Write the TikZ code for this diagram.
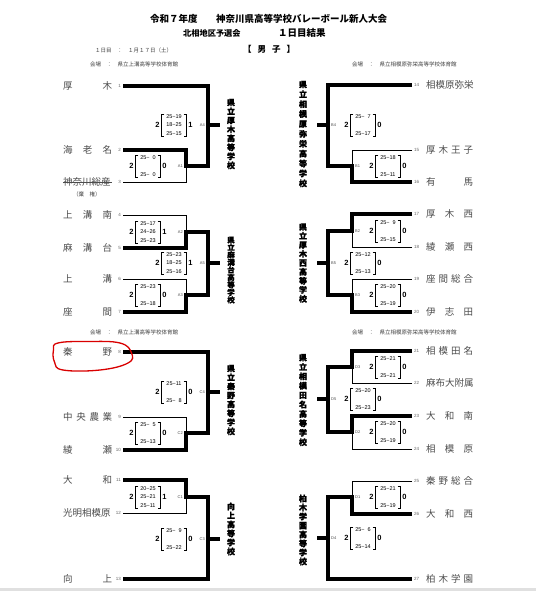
\documentclass[tikz,border=0pt]{standalone}
\usepackage{fontspec}
\setmainfont{Liberation Sans}
\newfontfamily\jp{Noto Sans CJK JP}
\newfontfamily\jpheavy[FakeBold=1.6]{Noto Sans CJK JP}
\usetikzlibrary{positioning}
\newcommand{\scorebrackets}[1]{%
\draw[brk] ([xshift=2.5pt]#1.north west) -- (#1.north west) -- (#1.south west) -- ([xshift=2.5pt]#1.south west);
\draw[brk] ([xshift=-2.5pt]#1.north east) -- (#1.north east) -- (#1.south east) -- ([xshift=-2.5pt]#1.south east);}

\begin{document}
\begin{tikzpicture}[x=1pt,y=-1pt,
  winline/.style={line width=3.4pt},
  loseline/.style={line width=0.9pt},
  brk/.style={line width=0.7pt},
  tname/.style={font=\jp\fontsize{9.5}{10}\selectfont,text=black!70,inner sep=0pt,anchor=west},
  tnum/.style={font=\fontsize{4.5}{5}\selectfont,text=black!60,inner sep=0pt},
  score/.style={font=\fontsize{5.5}{8.5}\selectfont,align=center,text width=18pt,inner xsep=3pt,inner ysep=0.5pt},
  setnum/.style={font=\bfseries\fontsize{7.5}{8}\selectfont,inner sep=0pt},
  rnd/.style={font=\fontsize{4}{5}\selectfont,text=black!70,inner sep=0pt},
  winner/.style={font=\jpheavy\bfseries\fontsize{8}{9}\selectfont,align=center,inner sep=0pt},
  head/.style={font=\jp\bfseries\fontsize{9.5}{10}\selectfont,inner sep=0pt,anchor=west},
  venue/.style={font=\jp\fontsize{5.5}{6}\selectfont,text=black!75,inner sep=0pt,anchor=west}]
\useasboundingbox (0,0) rectangle (536,591);
\fill[white] (0,0) rectangle (536,591);
\fill[black!12] (0,587.5) rectangle (536,591);

\node[head] (h1) at (150,19) {令和７年度};
\node[head] (h2) at (216,19) {神奈川県高等学校バレーボール新人大会};
\node[head,font=\jp\bfseries\fontsize{8.2}{9}\selectfont] (h3) at (183,33) {北相地区予選会};
\node[head] (h4) at (278,33) {１日目結果};
\node[head,font=\jp\bfseries\fontsize{8.5}{9}\selectfont] (h5) at (243,49) {\makebox[52pt][s]{【\hfill 男\hfill 子\hfill 】}};
\node[venue] (dt) at (95,50) {１日目　：　１月１７日（土）};
\node[venue] (v1) at (90,64) {会場　：　県立上溝高等学校体育館};
\node[venue] (v2) at (352,64) {会場　：　県立相模原弥栄高等学校体育館};
\node[venue] (v3) at (90,332) {会場　：　県立上溝高等学校体育館};
\node[venue] (v4) at (352,332) {会場　：　県立相模原弥栄高等学校体育館};

\coordinate (t1) at (123,86);
\coordinate (t2) at (123,150);
\coordinate (t3) at (123,182);
\coordinate (t4) at (123,215);
\coordinate (t5) at (123,248);
\coordinate (t6) at (123,279);
\coordinate (t7) at (123,312);
\coordinate (t8) at (123,352);
\coordinate (t9) at (123,417);
\coordinate (t10) at (123,450);
\coordinate (t11) at (123,480);
\coordinate (t12) at (123,513);
\coordinate (t13) at (123,579);
\coordinate (a1) at (186,166);
\coordinate (a2) at (186,232);
\coordinate (a3) at (186,295);
\coordinate (c2) at (186,433);
\coordinate (c1) at (186,497);
\coordinate (a4) at (208,125);
\coordinate (a5) at (208,263);
\coordinate (c4) at (208,392);
\coordinate (c3) at (208,539);
\coordinate (wa4) at (220,125);
\coordinate (wa5) at (220,263);
\coordinate (wc4) at (220,392);
\coordinate (wc3) at (220,539);

\coordinate (t14) at (412,85);
\coordinate (t15) at (412,150);
\coordinate (t16) at (412,182);
\coordinate (t17) at (412,214);
\coordinate (t18) at (412,247);
\coordinate (t19) at (412,279);
\coordinate (t20) at (412,312);
\coordinate (t21) at (412,351);
\coordinate (t22) at (412,383);
\coordinate (t23) at (412,416);
\coordinate (t24) at (412,449);
\coordinate (t25) at (412,481);
\coordinate (t26) at (412,514);
\coordinate (t27) at (412,579);
\coordinate (b1) at (352,166);
\coordinate (b2) at (352,231);
\coordinate (b3) at (352,295);
\coordinate (d3) at (352,367);
\coordinate (d2) at (352,432);
\coordinate (d1) at (352,497);
\coordinate (b4) at (328,125);
\coordinate (b5) at (328,263);
\coordinate (d5) at (328,399);
\coordinate (d4) at (328,538);
\coordinate (wb4) at (317,125);
\coordinate (wb5) at (317,263);
\coordinate (wd5) at (317,399);
\coordinate (wd4) at (317,538);

\draw[loseline] (t3) -| (a1);
\draw[loseline] (t4) -| (a2);
\draw[loseline] (t6) -| (a3);
\draw[loseline] (t9) -| (c2);
\draw[loseline] (t12) -| (c1);
\draw[winline] (t2) -| (a1) -| (a4);
\draw[winline] (t1) -| (a4) -- (wa4);
\draw[winline] (t7) -| (a3) -| (a5);
\draw[winline] (t5) -| (a2) -| (a5) -- (wa5);
\draw[winline] (t10) -| (c2) -| (c4);
\draw[winline] (t8) -| (c4) -- (wc4);
\draw[winline] (t11) -| (c1) -| (c3);
\draw[winline] (t13) -| (c3) -- (wc3);

\draw[loseline] (t15) -| (b1);
\draw[loseline] (t18) -| (b2);
\draw[loseline] (t19) -| (b3);
\draw[loseline] (t22) -| (d3);
\draw[loseline] (t24) -| (d2);
\draw[loseline] (t25) -| (d1);
\draw[winline] (t16) -| (b1) -| (b4);
\draw[winline] (t14) -| (b4) -- (wb4);
\draw[winline] (t20) -| (b3) -| (b5);
\draw[winline] (t17) -| (b2) -| (b5) -- (wb5);
\draw[winline] (t23) -| (d2) -| (d5);
\draw[winline] (t21) -| (d3) -| (d5) -- (wd5);
\draw[winline] (t26) -| (d1) -| (d4);
\draw[winline] (t27) -| (d4) -- (wd4);

\node[tnum,anchor=east] (no1) at (121,86) {1};
\node[tnum,anchor=east] (no2) at (121,150) {2};
\node[tnum,anchor=east] (no3) at (121,182) {3};
\node[tnum,anchor=east] (no4) at (121,215) {4};
\node[tnum,anchor=east] (no5) at (121,248) {5};
\node[tnum,anchor=east] (no6) at (121,279) {6};
\node[tnum,anchor=east] (no7) at (121,312) {7};
\node[tnum,anchor=east] (no8) at (121,352) {8};
\node[tnum,anchor=east] (no9) at (121,417) {9};
\node[tnum,anchor=east] (no10) at (121,450) {10};
\node[tnum,anchor=east] (no11) at (121,480) {11};
\node[tnum,anchor=east] (no12) at (121,513) {12};
\node[tnum,anchor=east] (no13) at (121,579) {13};
\node[tnum,anchor=west] (no14) at (414,85) {14};
\node[tnum,anchor=west] (no15) at (414,150) {15};
\node[tnum,anchor=west] (no16) at (414,182) {16};
\node[tnum,anchor=west] (no17) at (414,214) {17};
\node[tnum,anchor=west] (no18) at (414,247) {18};
\node[tnum,anchor=west] (no19) at (414,279) {19};
\node[tnum,anchor=west] (no20) at (414,312) {20};
\node[tnum,anchor=west] (no21) at (414,351) {21};
\node[tnum,anchor=west] (no22) at (414,383) {22};
\node[tnum,anchor=west] (no23) at (414,416) {23};
\node[tnum,anchor=west] (no24) at (414,449) {24};
\node[tnum,anchor=west] (no25) at (414,481) {25};
\node[tnum,anchor=west] (no26) at (414,514) {26};
\node[tnum,anchor=west] (no27) at (414,579) {27};

\node[tname] (n1) at (63,86) {\makebox[49pt][s]{厚\hfill 木}};
\node[tname] (n2) at (63,150) {\makebox[49pt][s]{海\hfill 老\hfill 名}};
\node[tname] (n3) at (63,182) {\makebox[49pt][s]{神奈川総産}};
\draw[line width=0.6pt,black!70] (n3.west) -- (n3.east);
\node[venue] (kiken) at (73,194) {（棄　権）};
\node[tname] (n4) at (63,215) {\makebox[49pt][s]{上\hfill 溝\hfill 南}};
\node[tname] (n5) at (63,248) {\makebox[49pt][s]{麻\hfill 溝\hfill 台}};
\node[tname] (n6) at (63,279) {\makebox[49pt][s]{上\hfill 溝}};
\node[tname] (n7) at (63,312) {\makebox[49pt][s]{座\hfill 間}};
\node[tname] (n8) at (63,352) {\makebox[49pt][s]{秦\hfill 野}};
\node[tname] (n9) at (63,417) {\makebox[49pt][s]{中\hfill 央\hfill 農\hfill 業}};
\node[tname] (n10) at (63,450) {\makebox[49pt][s]{綾\hfill 瀬}};
\node[tname] (n11) at (63,480) {\makebox[49pt][s]{大\hfill 和}};
\node[tname] (n12) at (63,513) {\makebox[49pt][s]{光明相模原}};
\node[tname] (n13) at (63,579) {\makebox[49pt][s]{向\hfill 上}};
\node[tname] (n14) at (426,85) {\makebox[47pt][s]{相模原弥栄}};
\node[tname] (n15) at (426,150) {\makebox[47pt][s]{厚\hfill 木\hfill 王\hfill 子}};
\node[tname] (n16) at (426,182) {\makebox[47pt][s]{有\hfill 馬}};
\node[tname] (n17) at (426,214) {\makebox[47pt][s]{厚\hfill 木\hfill 西}};
\node[tname] (n18) at (426,247) {\makebox[47pt][s]{綾\hfill 瀬\hfill 西}};
\node[tname] (n19) at (426,279) {\makebox[47pt][s]{座\hfill 間\hfill 総\hfill 合}};
\node[tname] (n20) at (426,312) {\makebox[47pt][s]{伊\hfill 志\hfill 田}};
\node[tname] (n21) at (426,351) {\makebox[47pt][s]{相\hfill 模\hfill 田\hfill 名}};
\node[tname] (n22) at (426,383) {\makebox[47pt][s]{麻布大附属}};
\node[tname] (n23) at (426,416) {\makebox[47pt][s]{大\hfill 和\hfill 南}};
\node[tname] (n24) at (426,449) {\makebox[47pt][s]{相\hfill 模\hfill 原}};
\node[tname] (n25) at (426,481) {\makebox[47pt][s]{秦\hfill 野\hfill 総\hfill 合}};
\node[tname] (n26) at (426,514) {\makebox[47pt][s]{大\hfill 和\hfill 西}};
\node[tname] (n27) at (426,579) {\makebox[47pt][s]{柏\hfill 木\hfill 学\hfill 園}};

\node[score] (sa1) at (148,166) {25−\phantom{0}0\\\mbox{}\\25−\phantom{0}0};
\node[setnum,left=2pt of sa1] (ga1) {2};
\node[setnum,right=2pt of sa1] (ha1) {0};
\scorebrackets{sa1}
\node[rnd,anchor=east] (la1) at (183,166) {A1};
\node[score] (sa2) at (148,232) {25−17\\24−26\\25−23};
\node[setnum,left=2pt of sa2] (ga2) {2};
\node[setnum,right=2pt of sa2] (ha2) {1};
\scorebrackets{sa2}
\node[rnd,anchor=east] (la2) at (183,232) {A2};
\node[score] (sa3) at (148,295) {25−23\\\mbox{}\\25−18};
\node[setnum,left=2pt of sa3] (ga3) {2};
\node[setnum,right=2pt of sa3] (ha3) {0};
\scorebrackets{sa3}
\node[rnd,anchor=east] (la3) at (183,295) {A3};
\node[score] (sa4) at (174,125) {25−19\\18−25\\25−15};
\node[setnum,left=2pt of sa4] (ga4) {2};
\node[setnum,right=2pt of sa4] (ha4) {1};
\scorebrackets{sa4}
\node[rnd,anchor=east] (la4) at (205,125) {A4};
\node[score] (sa5) at (174,263) {25−23\\18−25\\25−16};
\node[setnum,left=2pt of sa5] (ga5) {2};
\node[setnum,right=2pt of sa5] (ha5) {1};
\scorebrackets{sa5}
\node[rnd,anchor=east] (la5) at (205,263) {A5};
\node[score] (sc4) at (174,392) {25−11\\\mbox{}\\25−\phantom{0}8};
\node[setnum,left=2pt of sc4] (gc4) {2};
\node[setnum,right=2pt of sc4] (hc4) {0};
\scorebrackets{sc4}
\node[rnd,anchor=east] (lc4) at (205,392) {C4};
\node[score] (sc2) at (148,433) {25−\phantom{0}5\\\mbox{}\\25−13};
\node[setnum,left=2pt of sc2] (gc2) {2};
\node[setnum,right=2pt of sc2] (hc2) {0};
\scorebrackets{sc2}
\node[rnd,anchor=east] (lc2) at (183,433) {C2};
\node[score] (sc1) at (148,497) {20−25\\25−21\\25−11};
\node[setnum,left=2pt of sc1] (gc1) {2};
\node[setnum,right=2pt of sc1] (hc1) {1};
\scorebrackets{sc1}
\node[rnd,anchor=east] (lc1) at (183,497) {C1};
\node[score] (sc3) at (174,539) {25−\phantom{0}9\\\mbox{}\\25−22};
\node[setnum,left=2pt of sc3] (gc3) {2};
\node[setnum,right=2pt of sc3] (hc3) {0};
\scorebrackets{sc3}
\node[rnd,anchor=east] (lc3) at (205,539) {C3};

\node[score] (sb4) at (363,125) {25−\phantom{0}7\\\mbox{}\\25−17};
\node[setnum,left=2pt of sb4] (gb4) {2};
\node[setnum,right=2pt of sb4] (hb4) {0};
\scorebrackets{sb4}
\node[rnd,anchor=west] (lb4) at (331,125) {B4};
\node[score] (sb1) at (388,166) {25−18\\\mbox{}\\25−11};
\node[setnum,left=2pt of sb1] (gb1) {2};
\node[setnum,right=2pt of sb1] (hb1) {0};
\scorebrackets{sb1}
\node[rnd,anchor=west] (lb1) at (355,166) {B1};
\node[score] (sb2) at (388,231) {25−\phantom{0}9\\\mbox{}\\25−15};
\node[setnum,left=2pt of sb2] (gb2) {2};
\node[setnum,right=2pt of sb2] (hb2) {0};
\scorebrackets{sb2}
\node[rnd,anchor=west] (lb2) at (355,231) {B2};
\node[score] (sb5) at (363,263) {25−12\\\mbox{}\\25−13};
\node[setnum,left=2pt of sb5] (gb5) {2};
\node[setnum,right=2pt of sb5] (hb5) {0};
\scorebrackets{sb5}
\node[rnd,anchor=west] (lb5) at (331,263) {B5};
\node[score] (sb3) at (388,295) {25−20\\\mbox{}\\25−19};
\node[setnum,left=2pt of sb3] (gb3) {2};
\node[setnum,right=2pt of sb3] (hb3) {0};
\scorebrackets{sb3}
\node[rnd,anchor=west] (lb3) at (355,295) {B3};
\node[score] (sd3) at (388,367) {25−21\\\mbox{}\\25−21};
\node[setnum,left=2pt of sd3] (gd3) {2};
\node[setnum,right=2pt of sd3] (hd3) {0};
\scorebrackets{sd3}
\node[rnd,anchor=west] (ld3) at (355,367) {D3};
\node[score] (sd5) at (363,399) {25−20\\\mbox{}\\25−23};
\node[setnum,left=2pt of sd5] (gd5) {2};
\node[setnum,right=2pt of sd5] (hd5) {0};
\scorebrackets{sd5}
\node[rnd,anchor=west] (ld5) at (331,399) {D5};
\node[score] (sd2) at (388,432) {25−20\\\mbox{}\\25−19};
\node[setnum,left=2pt of sd2] (gd2) {2};
\node[setnum,right=2pt of sd2] (hd2) {0};
\scorebrackets{sd2}
\node[rnd,anchor=west] (ld2) at (355,432) {D2};
\node[score] (sd1) at (388,497) {25−21\\\mbox{}\\25−19};
\node[setnum,left=2pt of sd1] (gd1) {2};
\node[setnum,right=2pt of sd1] (hd1) {0};
\scorebrackets{sd1}
\node[rnd,anchor=west] (ld1) at (355,497) {D1};
\node[score] (sd4) at (363,538) {25−\phantom{0}6\\\mbox{}\\25−14};
\node[setnum,left=2pt of sd4] (gd4) {2};
\node[setnum,right=2pt of sd4] (hd4) {0};
\scorebrackets{sd4}
\node[rnd,anchor=west] (ld4) at (331,538) {D4};

\node[winner] (wina4) at (231,134) {県\\立\\厚\\木\\高\\等\\学\\校};
\node[winner,font=\jpheavy\bfseries\fontsize{7.5}{7.5}\selectfont] (wina5) at (231,270) {県\\立\\麻\\溝\\台\\高\\等\\学\\校};
\node[winner] (winc4) at (231,400) {県\\立\\秦\\野\\高\\等\\学\\校};
\node[winner] (winc3) at (231,529) {向\\上\\高\\等\\学\\校};
\node[winner,font=\jpheavy\bfseries\fontsize{8}{9.9}\selectfont] (winb4) at (303,134) {県\\立\\相\\模\\原\\弥\\栄\\高\\等\\学\\校};
\node[winner] (winb5) at (303,263) {県\\立\\厚\\木\\西\\高\\等\\学\\校};
\node[winner,font=\jpheavy\bfseries\fontsize{8}{9.4}\selectfont] (wind5) at (303,400) {県\\立\\相\\模\\田\\名\\高\\等\\学\\校};
\node[winner] (wind4) at (303,530) {柏\\木\\学\\園\\高\\等\\学\\校};

\draw[red!85!black,line width=1.3pt] plot[smooth cycle,tension=0.7] coordinates {(58,343) (87,341.5) (120,343) (131.5,353) (128,363) (100,370) (63,370) (54.5,362) (53.5,350)};
\end{tikzpicture}
\end{document}
